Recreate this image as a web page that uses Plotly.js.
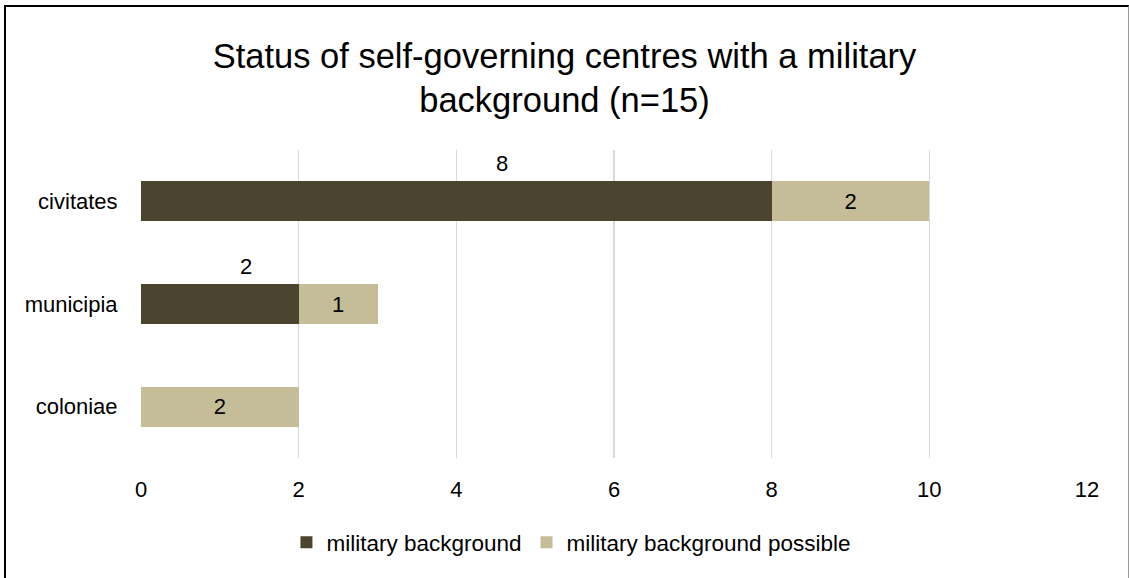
<!DOCTYPE html>
<html>
<head>
<meta charset="utf-8">
<script src="https://cdn.plot.ly/plotly-3.0.1.min.js"></script>
<style>
  html, body { margin: 0; padding: 0; background: #fff; }
  #frame { position: absolute; left: 4px; top: 5px; width: 1125px; height: 580px;
           border-left: 2px solid #000; border-top: 2px solid #000; border-right: 1px solid #999; box-sizing: border-box; }
  #chart { position: absolute; left: 0; top: 0; width: 1129px; height: 578px; }
</style>
</head>
<body>
<div id="chart"></div>
<div id="frame"></div>
<script>
const categories = ["civitates", "municipia", "coloniae"];
const seriesNames = ["military background", "military background possible"];
const militaryBackground = [8, 2, 0];
const militaryBackgroundPossible = [2, 1, 2];
const xTicks = [0, 2, 4, 6, 8, 10, 12];
const titleText = "Status of self-governing centres with a military<br>background (n=15)";

const FONT = "Liberation Sans, Arial, sans-serif";
const dark = "#4B4530";
const light = "#C4BD97";

const traces = [
  {
    type: "bar", orientation: "h", name: seriesNames[0],
    y: categories, x: militaryBackground,
    marker: { color: dark },
    hoverinfo: "x+y"
  },
  {
    type: "bar", orientation: "h", name: seriesNames[1],
    y: categories, x: militaryBackgroundPossible,
    marker: { color: light },
    text: militaryBackgroundPossible.map(String),
    textposition: "inside", insidetextanchor: "middle",
    textfont: { family: FONT, size: 22, color: "#000" },
    hoverinfo: "x+y"
  }
];

// labels of the first series sit above their bars
const labelShift = [46, 26, 0];
const annotations = [];
militaryBackground.forEach((v, i) => {
  if (v > 0) {
    annotations.push({
      x: v / 2, y: categories[i], xref: "x", yref: "y",
      text: String(v), showarrow: false,
      xshift: labelShift[i], yshift: 38,
      font: { family: FONT, size: 22, color: "#000" }
    });
  }
});

const layout = {
  width: 1129, height: 578,
  margin: { l: 141, r: 42, t: 150, b: 120 },
  paper_bgcolor: "#fff", plot_bgcolor: "#fff",
  barmode: "stack", bargap: 0.61,
  title: {
    text: titleText, x: 0.5, xanchor: "center", xref: "container",
    y: 0.883, yref: "container", yanchor: "middle",
    font: { family: FONT, size: 34.5, color: "#000" }
  },
  xaxis: {
    range: [0, 12], tickvals: xTicks, ticktext: xTicks.map(String),
    showgrid: true, gridcolor: "#D9D9D9", gridwidth: 1.5,
    zeroline: false, showline: false,
    ticks: "outside", ticklen: 12, tickcolor: "rgba(0,0,0,0)",
    tickfont: { family: FONT, size: 22, color: "#000" },
    fixedrange: true
  },
  yaxis: {
    categoryorder: "array", categoryarray: categories.slice().reverse(),
    range: [-0.5, 2.5],
    showgrid: false, zeroline: false, showline: false,
    ticks: "outside", ticklen: 18, tickcolor: "rgba(0,0,0,0)",
    tickfont: { family: FONT, size: 22, color: "#000" },
    fixedrange: true
  },
  legend: {
    orientation: "h", x: 0.4545, xanchor: "center", y: -0.275, yanchor: "middle",
    font: { family: FONT, size: 22.5, color: "#000" },
    itemwidth: 30, traceorder: "normal"
  },
  annotations: annotations,
  showlegend: true
};

Plotly.newPlot("chart", traces, layout, { displayModeBar: false, staticPlot: true });
</script>
</body>
</html>
